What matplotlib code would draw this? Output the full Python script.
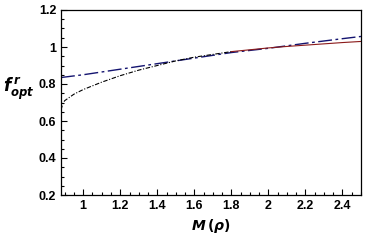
import matplotlib
matplotlib.use('Agg')
import matplotlib.pyplot as plt
from matplotlib.ticker import MultipleLocator

# values
x_low = [0.88, 0.89, 0.9, 0.95, 1.0, 1.1, 1.2, 1.3, 1.4, 1.5, 1.6, 1.7, 1.8]
y_low = [0.66, 0.695, 0.71, 0.745, 0.77, 0.81, 0.845, 0.875, 0.90, 0.925, 0.945, 0.96, 0.975]

x_high = [1.8, 1.9, 2.0, 2.1, 2.2, 2.3, 2.4, 2.5]
y_high = [0.975, 0.985, 0.995, 1.003, 1.01, 1.017, 1.024, 1.03]

x_blue = [0.88, 1.0, 1.2, 1.4, 1.6, 1.8, 2.0, 2.2, 2.4, 2.5]
y_blue = [0.835, 0.85, 0.88, 0.91, 0.94, 0.97, 0.993, 1.02, 1.045, 1.057]

x_ticks = [1, 1.2, 1.4, 1.6, 1.8, 2, 2.2, 2.4]
y_ticks = [0.2, 0.4, 0.6, 0.8, 1, 1.2]

plt.rcParams['font.family'] = ['Liberation Sans', 'DejaVu Sans']
plt.rcParams['font.weight'] = 'bold'

fig = plt.figure(figsize=(3.67, 2.41), dpi=100)
ax = fig.add_axes([61 / 367, 46 / 241, 300 / 367, 185 / 241])

ax.plot(x_blue, y_blue, color='#141470', linestyle=(0, (10, 2.5, 2, 2.5)), linewidth=1.0)
ax.plot(x_low, y_low, color='black', linestyle=(0, (4, 1.5, 1, 1.5)), linewidth=0.8)
ax.plot(x_high, y_high, color='#8b1a1a', linestyle='-', linewidth=0.8)

ax.set_xlim(0.88, 2.5)
ax.set_ylim(0.2, 1.2)
ax.set_xticks(x_ticks)
ax.set_xticklabels(['1', '1.2', '1.4', '1.6', '1.8', '2', '2.2', '2.4'])
ax.set_yticks(y_ticks)
ax.set_yticklabels(['0.2', '0.4', '0.6', '0.8', '1', '1.2'])
ax.xaxis.set_minor_locator(MultipleLocator(0.05))
ax.yaxis.set_minor_locator(MultipleLocator(0.05))
ax.tick_params(which='both', direction='in', top=False, right=False, labelsize=9, width=0.8)
ax.tick_params(which='major', length=4)
ax.tick_params(which='minor', length=2)
for s in ax.spines.values():
    s.set_linewidth(0.9)

ax.set_xlabel(r'$M\,(\rho)$', fontsize=10)
ax.set_ylabel(r'$f^{\,r}_{opt}$', fontsize=12, rotation=0)
ax.yaxis.set_label_coords(-0.14, 0.5)

fig.savefig('out.png', dpi=100)
